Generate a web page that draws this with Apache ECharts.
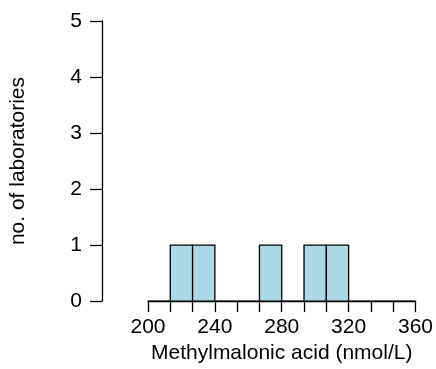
<!DOCTYPE html>
<html>
<head>
<meta charset="utf-8">
<script src="https://cdn.jsdelivr.net/npm/echarts@6/dist/echarts.min.js"></script>
<style>
html,body{margin:0;padding:0;background:#fff;}
#c{width:436px;height:369px;}
</style>
</head>
<body>
<div id="c"></div>
<script>
// Histogram bin edges (nmol/L) and counts per bin
var binEdges = [200, 213.33, 226.67, 240, 253.33, 266.67, 280, 293.33, 306.67, 320, 333.33, 346.67, 360];
var binCounts = [0, 1, 1, 0, 0, 1, 0, 1, 1, 0, 0, 0];
var xTickLabels = [200, 240, 280, 320, 360];
var yTickLabels = [0, 1, 2, 3, 4, 5];
var xTitle = 'Methylmalonic acid (nmol/L)';
var yTitle = 'no. of laboratories';

var data = binCounts.map(function (c, i) { return [binEdges[i], binEdges[i + 1], c]; });

var font = 'Liberation Sans, Arial, Helvetica, sans-serif';
var fs = 21;
var chart = echarts.init(document.getElementById('c'), null, {renderer: 'canvas'});
chart.setOption({
  backgroundColor: '#fff',
  animation: false,
  grid: {left: 147, right: 16, top: 21, bottom: 56, containLabel: false},
  xAxis: {
    type: 'value', min: xTickLabels[0], max: xTickLabels[xTickLabels.length - 1], interval: 40,
    name: xTitle, nameLocation: 'middle', nameGap: 36,
    nameTextStyle: {fontFamily: font, fontSize: fs, color: '#000', verticalAlign: 'top'},
    axisLine: {show: true, lineStyle: {color: '#000', width: 1.3}},
    axisTick: {show: true, length: 11, lineStyle: {color: '#000', width: 1.3}},
    minorTick: {show: true, splitNumber: 3, length: 11, lineStyle: {color: '#000', width: 1.3}},
    axisLabel: {fontFamily: font, fontSize: fs, color: '#000', margin: 16,
      formatter: function (v) { return xTickLabels.indexOf(v) >= 0 ? String(v) : ''; }},
    splitLine: {show: false}
  },
  yAxis: {
    type: 'value', min: 0, max: 5, interval: 1, offset: 46,
    name: yTitle, nameLocation: 'middle', nameGap: 73, nameRotate: 90,
    nameTextStyle: {fontFamily: font, fontSize: fs, color: '#000'},
    axisLine: {show: true, lineStyle: {color: '#000', width: 1.3}},
    axisTick: {show: true, length: 12, lineStyle: {color: '#000', width: 1.3}},
    axisLabel: {fontFamily: font, fontSize: fs, color: '#000', margin: 20,
      formatter: function (v) { return yTickLabels.indexOf(v) >= 0 ? String(v) : ''; }},
    splitLine: {show: false}
  },
  series: [{
    type: 'custom',
    data: data,
    encode: {x: [0, 1], y: 2},
    renderItem: function (params, api) {
      var p0 = api.coord([api.value(0), api.value(2)]);
      var p1 = api.coord([api.value(1), 0]);
      return {
        type: 'rect',
        shape: {x: p0[0], y: p0[1], width: p1[0] - p0[0], height: p1[1] - p0[1]},
        style: {fill: '#ADD8E6', stroke: '#000', lineWidth: 1.3}
      };
    }
  }]
});
</script>
</body>
</html>
